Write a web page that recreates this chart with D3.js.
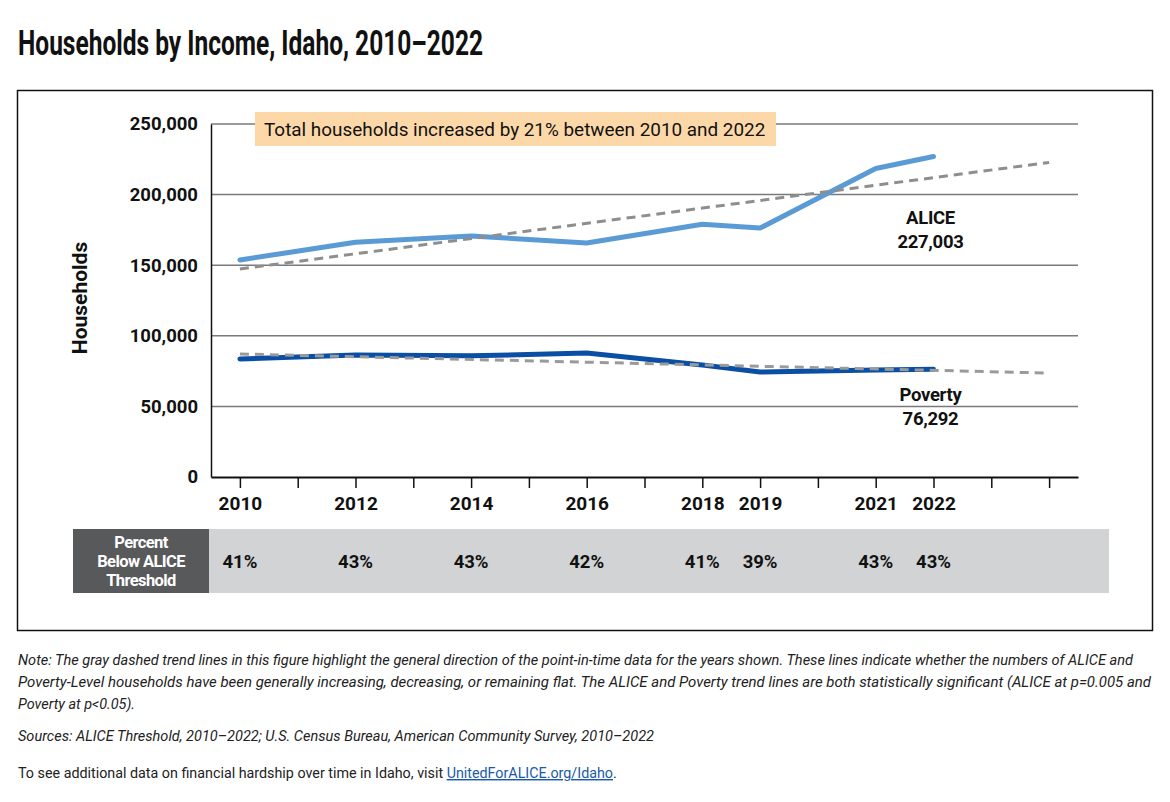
<!DOCTYPE html>
<html><head><meta charset="utf-8">
<script src="https://cdn.jsdelivr.net/npm/d3@7"></script>
<style>
html,body{margin:0;padding:0;background:#fff;}
svg{display:block;}
</style></head>
<body>
<svg id="chart" width="1170" height="802"></svg>
<script>
// ---- data ----
const axisYears = [2010,2011,2012,2013,2014,2015,2016,2017,2018,2019,2020,2021,2022,2023,2024];
const dataYears = [2010,2012,2014,2016,2018,2019,2021,2022];
const aliceValues = [153700,166200,170700,165700,179000,176300,218500,227003];
const povertyValues = [83600,86400,85800,87800,79300,74300,75800,76292];
const aliceTrendYears = [2010,2024];
const aliceTrendValues = [147300,222800];
const povertyTrendYears = [2010,2024];
const povertyTrendValues = [87100,73600];
const percentBelow = ["41%","43%","43%","42%","41%","39%","43%","43%"];
const yTicks = [0,50000,100000,150000,200000,250000];

const svg = d3.select("#chart");
const W = 1170, H = 802;
svg.append("rect").attr("width",W).attr("height",H).attr("fill","#fff");

// title
svg.append("text").attr("x",18).attr("y",55)
  .attr("font-family","Roboto, 'Liberation Sans Narrow', sans-serif")
  .attr("font-weight",700).attr("font-size",35).attr("fill","#111")
  .attr("textLength",465).attr("lengthAdjust","spacingAndGlyphs")
  .text("Households by Income, Idaho, 2010\u20132022");

// frame
svg.append("rect").attr("x",17.5).attr("y",90.5).attr("width",1135).attr("height",540)
  .attr("fill","none").attr("stroke","#111").attr("stroke-width",1.5);

const x = d3.scalePoint().domain(axisYears).range([211,1078]).padding(0.5);
const y = d3.scaleLinear().domain([0,250000]).range([477,124]);

// gridlines
svg.append("g").selectAll("line").data(yTicks.filter(d=>d>0)).join("line")
  .attr("x1",211).attr("x2",1078).attr("y1",d=>y(d)).attr("y2",d=>y(d))
  .attr("stroke","#7a7a7a").attr("stroke-width",1.5);

// y axis
const yAxis = svg.append("g").attr("transform","translate(211,0)")
  .call(d3.axisLeft(y).tickValues(yTicks).tickSize(0).tickPadding(13).tickFormat(d3.format(",")));
yAxis.select(".domain").attr("stroke","#111").attr("stroke-width",1.5);
yAxis.selectAll("text").attr("font-family","Roboto, sans-serif").attr("font-weight",700)
  .attr("font-size",18.5).attr("fill","#111");

// x axis
const xAxis = svg.append("g").attr("transform","translate(0,477)")
  .call(d3.axisBottom(x).tickSize(11).tickSizeOuter(0).tickPadding(9)
    .tickFormat(d => dataYears.includes(d) ? d : ""));
xAxis.select(".domain").attr("stroke","#111").attr("stroke-width",2);
xAxis.selectAll(".tick line").attr("stroke","#111").attr("stroke-width",1.5);
xAxis.selectAll("text").attr("font-family","Roboto, sans-serif").attr("font-weight",700)
  .attr("font-size",19).attr("fill","#111");

// y title
svg.append("text").attr("transform","translate(87,298) rotate(-90)")
  .attr("text-anchor","middle").attr("font-family","Roboto, sans-serif")
  .attr("font-weight",700).attr("font-size",21).attr("fill","#111").text("Households");

// annotation box
svg.append("rect").attr("x",255).attr("y",112).attr("width",521).attr("height",34).attr("fill","#fcd8a8");
svg.append("text").attr("x",264).attr("y",136).attr("font-family","Roboto, sans-serif")
  .attr("font-size",18.9).attr("fill","#111")
  .text("Total households increased by 21% between 2010 and 2022");

const line = d3.line().x(d=>x(d[0])).y(d=>y(d[1]));

// lines
svg.append("path").datum(dataYears.map((d,i)=>[d,aliceValues[i]])).attr("d",line)
  .attr("fill","none").attr("stroke","#5b9bd5").attr("stroke-width",5).attr("stroke-linejoin","round").attr("stroke-linecap","round");
svg.append("path").datum(dataYears.map((d,i)=>[d,povertyValues[i]])).attr("d",line)
  .attr("fill","none").attr("stroke","#0a4fa3").attr("stroke-width",5).attr("stroke-linejoin","round").attr("stroke-linecap","round");

// trend lines
svg.append("path").datum(aliceTrendYears.map((d,i)=>[d,aliceTrendValues[i]])).attr("d",line)
  .attr("fill","none").attr("stroke","#8e8e8e").attr("stroke-width",3).attr("stroke-dasharray","9,6");
svg.append("path").datum(povertyTrendYears.map((d,i)=>[d,povertyTrendValues[i]])).attr("d",line)
  .attr("fill","none").attr("stroke","#9a9a9a").attr("stroke-width",3).attr("stroke-dasharray","9,6");

// series labels
const lastX = x(dataYears[dataYears.length-1]);
const lab = (txt,yy)=>svg.append("text").attr("x",lastX-3).attr("y",yy).attr("text-anchor","middle")
  .attr("font-family","Roboto, sans-serif").attr("font-weight",700).attr("font-size",18.5)
  .attr("letter-spacing",-0.3).attr("fill","#111").text(txt);
lab("ALICE",224);
lab(d3.format(",")(aliceValues[aliceValues.length-1]),248);
lab("Poverty",401);
lab(d3.format(",")(povertyValues[povertyValues.length-1]),425);

// percent row
svg.append("rect").attr("x",73).attr("y",529).attr("width",1036).attr("height",64).attr("fill","#d1d3d4");
svg.append("rect").attr("x",73).attr("y",529).attr("width",136).attr("height",64).attr("fill","#58595b");
["Percent","Below ALICE","Threshold"].forEach((t,i)=>{
  svg.append("text").attr("x",141).attr("y",548+i*19).attr("text-anchor","middle")
    .attr("font-family","Roboto, sans-serif").attr("font-weight",700).attr("font-size",16.5)
    .attr("letter-spacing",-0.6).attr("fill","#fff").text(t);
});
svg.append("g").selectAll("text").data(dataYears).join("text")
  .attr("x",d=>x(d)).attr("y",568).attr("text-anchor","middle")
  .attr("font-family","Roboto, sans-serif").attr("font-weight",700).attr("font-size",18.5)
  .attr("fill","#111").text((d,i)=>percentBelow[i]);

// notes
const note = (txt,yy,len)=>{
  const t = svg.append("text").attr("x",18).attr("y",yy).attr("font-family","Roboto, sans-serif")
    .attr("font-style","italic").attr("font-size",14.3).attr("fill","#222").text(txt);
  if(len) t.attr("textLength",len).attr("lengthAdjust","spacingAndGlyphs");
};
note("Note: The gray dashed trend lines in this figure highlight the general direction of the point-in-time data for the years shown. These lines indicate whether the numbers of ALICE and",665,1115);
note("Poverty-Level households have been generally increasing, decreasing, or remaining flat. The ALICE and Poverty trend lines are both statistically significant (ALICE at p=0.005 and",687,1133);
note("Poverty at p<0.05).",709,117);
note("Sources: ALICE Threshold, 2010\u20132022; U.S. Census Bureau, American Community Survey, 2010\u20132022",741,636);

const last = svg.append("text").attr("x",18).attr("y",778).attr("font-family","Roboto, sans-serif")
  .attr("font-size",14.3).attr("fill","#222");
last.append("tspan").text("To see additional data on financial hardship over time in Idaho, visit ");
last.append("tspan").attr("fill","#1a5aa8").attr("text-decoration","underline").text("UnitedForALICE.org/Idaho");
last.append("tspan").text(".");
</script>
</body></html>
